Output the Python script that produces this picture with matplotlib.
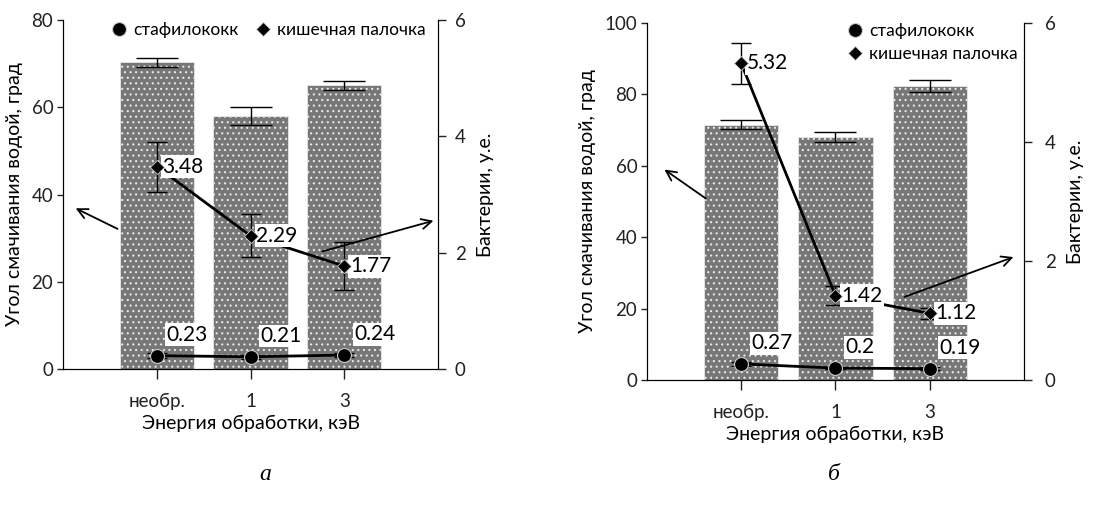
import numpy as np
import matplotlib
matplotlib.use('Agg')
import matplotlib.pyplot as plt

cats = ['необр.', '1', '3']

# panel a
angle_a = [70.3, 58.0, 65.0]
angle_a_err = [1.0, 2.0, 1.0]
ecoli_a = [3.48, 2.29, 1.77]
ecoli_a_err = [0.43, 0.37, 0.41]
staph_a = [0.23, 0.21, 0.24]
staph_a_err = [0.04, 0.03, 0.04]

# panel b
angle_b = [71.5, 68.1, 82.4]
angle_b_err = [1.2, 1.5, 1.6]
ecoli_b = [5.32, 1.42, 1.12]
ecoli_b_err = [0.34, 0.16, 0.09]
staph_b = [0.27, 0.20, 0.19]
staph_b_err = [0.03, 0.02, 0.02]

plt.rcParams['font.family'] = ['Lato', 'DejaVu Sans']
plt.rcParams['hatch.color'] = '#e8e8e8'
plt.rcParams['hatch.linewidth'] = 0.8

fig = plt.figure(figsize=(11.1, 5.08), dpi=100)

def panel(rect, angle, angle_err, ecoli, ecoli_err, staph, staph_err, ymax, ystep,
          legend_kw, arrows, letter, letter_x, rpad):
    ax = fig.add_axes(rect)
    x = np.arange(len(cats))
    ax.bar(x, angle, width=0.79, color='#777777', edgecolor='#e8e8e8', lw=0.6,
           hatch='...', zorder=1)
    ax.errorbar(x, angle, yerr=angle_err, fmt='none', ecolor='black', lw=1,
                capsize=15, capthick=1, zorder=2)
    ax.set_xlim(-1, 3)
    ax.set_ylim(0, ymax)
    ax.set_yticks(np.arange(0, ymax + 1, ystep))
    ax.set_xticks(x)
    ax.set_xticklabels(cats)
    ax.tick_params(axis='both', labelsize=13.5, direction='out', width=1,
                   colors='#222222')
    ax.tick_params(axis='y', length=4, pad=3)
    ax.tick_params(axis='x', length=7, pad=10)
    ax.set_xlabel('Энергия обработки, кэВ', fontsize=14, labelpad=4)
    ax.set_ylabel('Угол смачивания водой, град', fontsize=14, labelpad=6)
    ax.spines['top'].set_visible(False)

    ax2 = ax.twinx()
    ax2.set_ylim(0, 6)
    ax2.set_yticks([0, 2, 4, 6])
    ax2.tick_params(axis='y', labelsize=13.5, length=6, direction='out', width=1,
                    pad=rpad, colors='#222222')
    ax2.set_ylabel('Бактерии, у.е.', fontsize=14, labelpad=8)
    ax2.spines['top'].set_visible(False)

    ax2.errorbar(x, staph, yerr=staph_err, fmt='none', ecolor='black', lw=1,
                 capsize=7, zorder=3)
    ax2.errorbar(x, ecoli, yerr=ecoli_err, fmt='none', ecolor='black', lw=1,
                 capsize=7, zorder=3)
    ax2.plot(x, staph, '-', color='black', lw=2, zorder=3)
    ax2.plot(x, ecoli, '-', color='black', lw=2, zorder=3)
    for xi, v in zip(x, ecoli):
        ax2.annotate(f'{v:g}', (xi, v), xytext=(4, 0), textcoords='offset points',
                     ha='left', va='center', fontsize=15, zorder=4,
                     bbox=dict(facecolor='white', edgecolor='none', pad=1))
    for xi, v in zip(x, staph):
        ax2.annotate(f'{v:g}', (xi, v), xytext=(7, 15), textcoords='offset points',
                     ha='left', va='center', fontsize=15, zorder=4,
                     bbox=dict(facecolor='white', edgecolor='none', pad=1))
    ax2.plot(x, staph, 'o', color='black', ms=10, mec='#cccccc', mew=0.8,
             zorder=5, label='стафилококк')
    ax2.plot(x, ecoli, 'D', color='black', ms=7, mec='#cccccc', mew=0.6,
             zorder=5, label='кишечная палочка')
    ax2.legend(frameon=False, fontsize=12.5, handletextpad=0.2, handlelength=1.2,
               borderaxespad=0.3, **legend_kw)

    for start, end in arrows:
        ax.annotate('', xy=end, xytext=start, xycoords='axes fraction',
                    textcoords='axes fraction',
                    arrowprops=dict(arrowstyle='->', color='black', lw=1.3,
                                    mutation_scale=18), zorder=6)
    fig.text(letter_x, 0.055, letter, fontsize=17, style='italic',
             family='Liberation Serif', ha='center')

panel([0.0568, 0.2736, 0.3378, 0.687], angle_a, angle_a_err, ecoli_a, ecoli_a_err,
      staph_a, staph_a_err, 80, 20,
      dict(loc='upper left', ncol=2, columnspacing=0.8, bbox_to_anchor=(0.09, 1.03)),
      [((0.152, 0.398), (0.027, 0.464)), ((0.685, 0.335), (0.995, 0.427))],
      'а', 0.239, 6)
panel([0.5829, 0.252, 0.3396, 0.7027], angle_b, angle_b_err, ecoli_b, ecoli_b_err,
      staph_b, staph_b_err, 100, 20,
      dict(loc='upper right', ncol=1, labelspacing=0.4, bbox_to_anchor=(1.015, 1.035)),
      [((0.162, 0.504), (0.040, 0.594)), ((0.676, 0.230), (0.979, 0.347))],
      'б', 0.751, 9)

fig.savefig('out.png', dpi=100)
